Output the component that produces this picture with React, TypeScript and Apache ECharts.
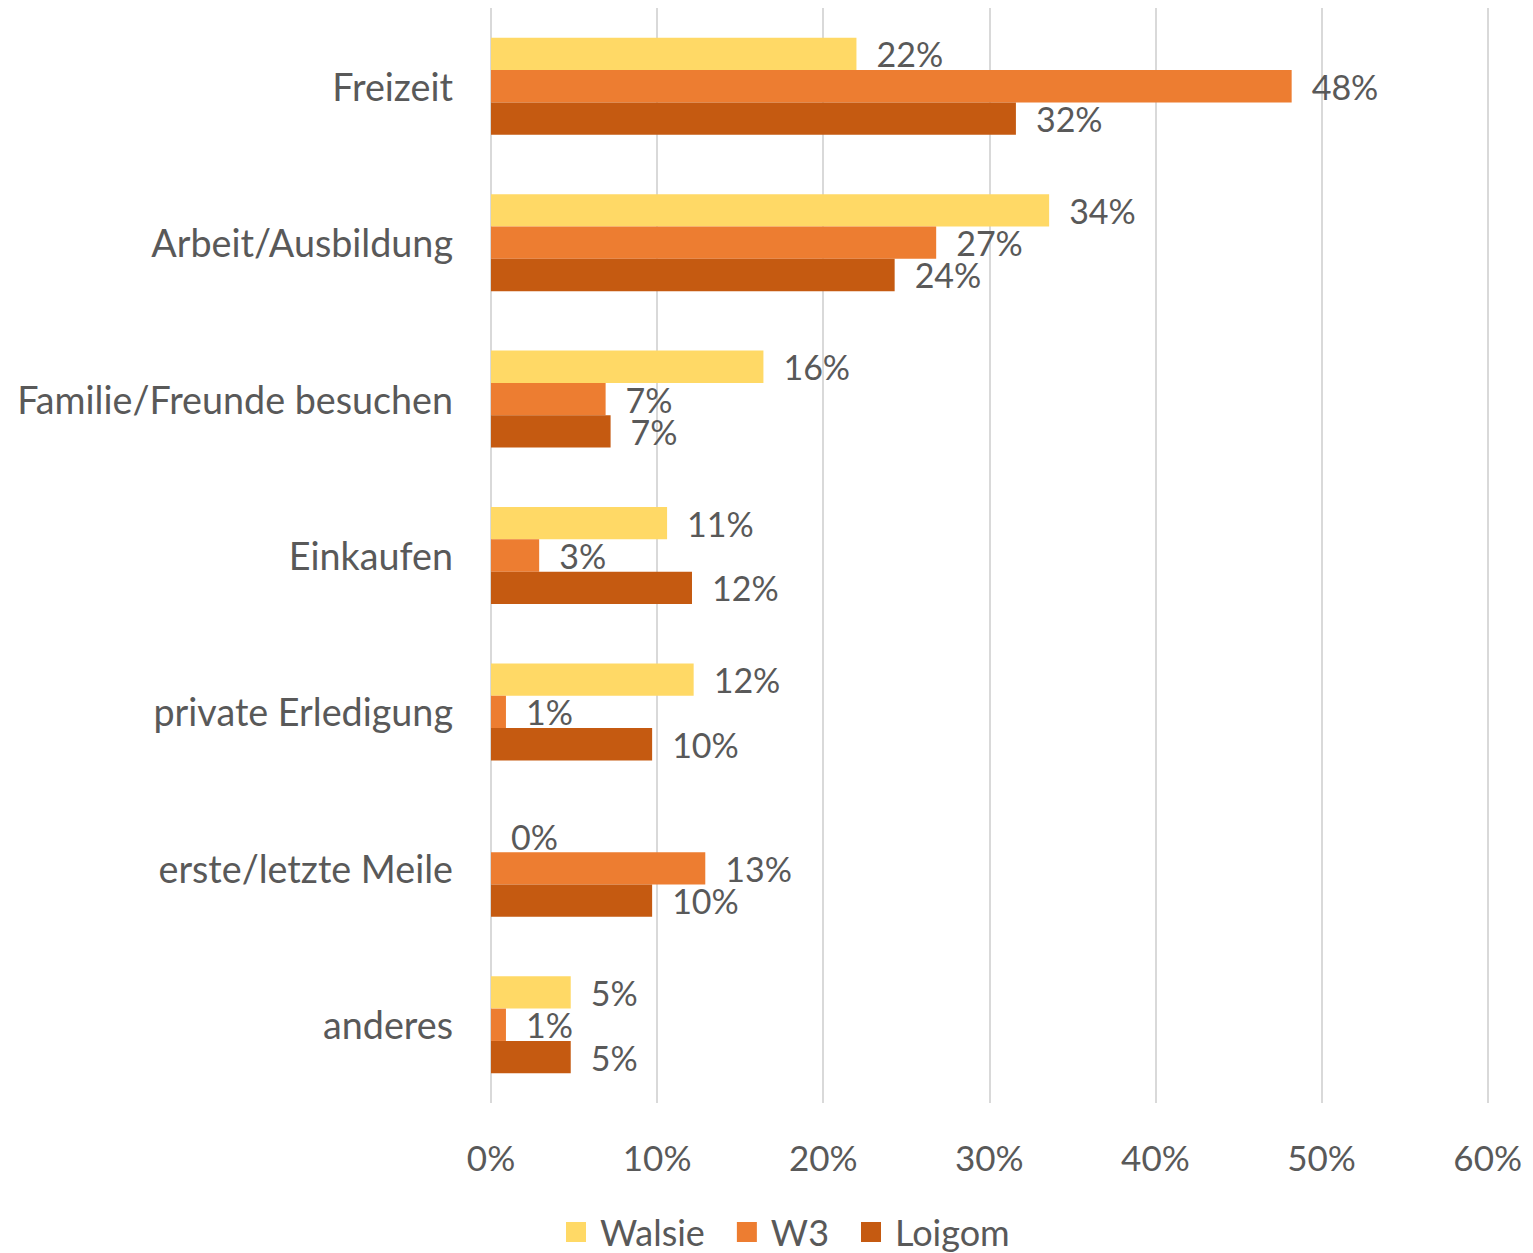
import React, { useEffect, useRef } from "react";
import * as echarts from "echarts";

const categories = [
  "Freizeit",
  "Arbeit/Ausbildung",
  "Familie/Freunde besuchen",
  "Einkaufen",
  "private Erledigung",
  "erste/letzte Meile",
  "anderes",
];
const walsie = [22.0, 33.6, 16.4, 10.6, 12.2, 0, 4.8];
const w3 = [48.2, 26.8, 6.9, 2.9, 0.9, 12.9, 0.9];
const loigom = [31.6, 24.3, 7.2, 12.1, 9.7, 9.7, 4.8];
const seriesNames = ["Walsie", "W3", "Loigom"];
const colors = ["#FFD966", "#ED7D31", "#C55A11"];

const FONT = "Lato";
const TEXT = "#595959";

export default function App() {
  const ref = useRef<HTMLDivElement>(null);
  useEffect(() => {
    if (!ref.current) return;
    const chart = echarts.init(ref.current, null, { renderer: "svg" });
    const data = [walsie, w3, loigom];
    chart.setOption({
      animation: false,
      textStyle: { fontFamily: FONT },
      grid: { left: 483, right: 29, top: 0, bottom: 150, containLabel: false },
      xAxis: {
        type: "value",
        min: 0,
        max: 60,
        interval: 10,
        axisLine: { show: false },
        axisTick: { show: false },
        splitLine: { lineStyle: { color: "#D9D9D9", width: 2 } },
        axisLabel: {
          formatter: (v: number) => `${v}%`,
          color: TEXT,
          fontSize: 35,
          fontFamily: FONT,
          margin: 36,
        },
      },
      yAxis: {
        type: "category",
        data: categories,
        inverse: true,
        axisLine: { show: false },
        axisTick: { show: false },
        axisLabel: { color: TEXT, fontSize: 37.7, fontFamily: FONT, margin: 38 },
      },
      legend: {
        top: 1204,
        left: 558,
        padding: 0,
        itemWidth: 20,
        itemHeight: 20,
        itemGap: 32,
        icon: "rect",
        textStyle: {
          color: TEXT,
          fontSize: 36,
          lineHeight: 40,
          fontFamily: FONT,
          padding: [0, 0, 0, 9],
        },
        data: seriesNames,
      },
      series: seriesNames.map((name, i) => ({
        name,
        type: "bar",
        data: data[i],
        barGap: "0%",
        barCategoryGap: "38%",
        itemStyle: { color: colors[i] },
        label: {
          show: true,
          position: "right",
          distance: 20,
          color: TEXT,
          fontSize: 34,
          lineHeight: 28,
          fontFamily: FONT,
          formatter: (p: any) => `${Math.round(p.value)}%`,
        },
      })),
    });
    return () => chart.dispose();
  }, []);
  return <div ref={ref} style={{ width: 1517, height: 1245 }} />;
}
